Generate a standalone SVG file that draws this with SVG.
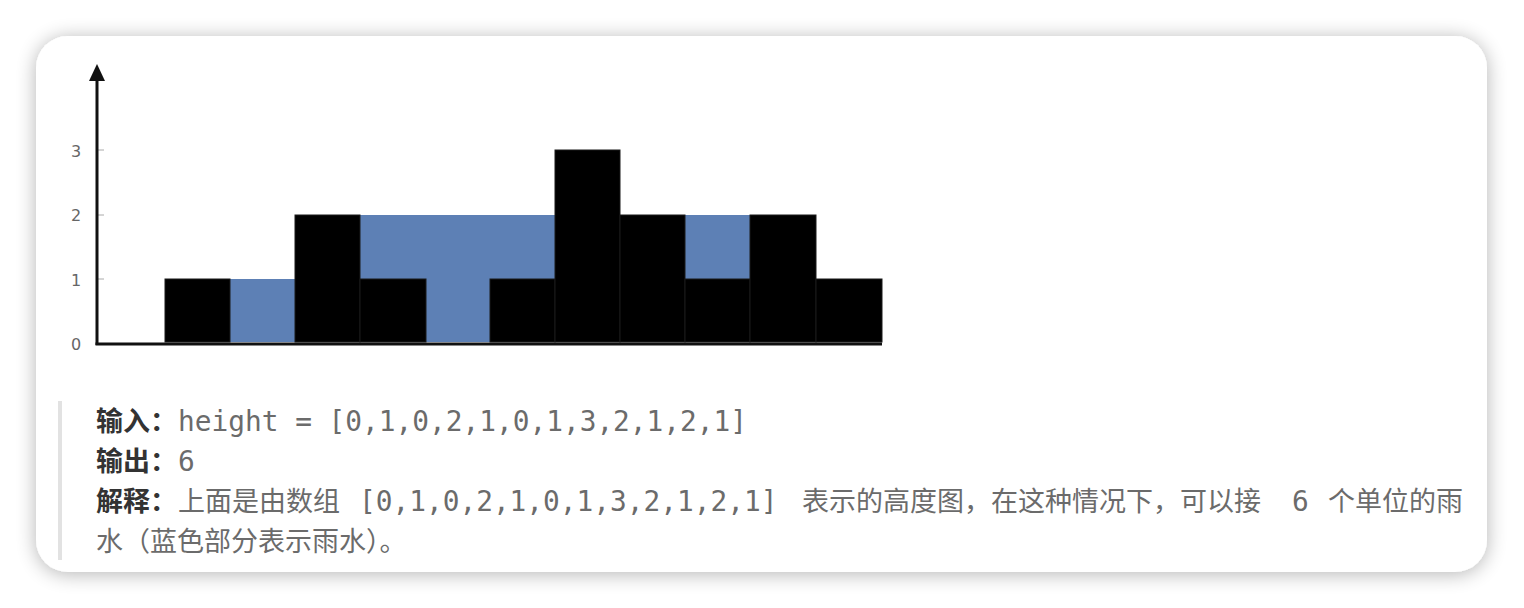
<svg xmlns="http://www.w3.org/2000/svg" width="1524" height="608" viewBox="0 0 1524 608">
<defs>
<filter id="sh" x="-5%" y="-10%" width="110%" height="120%">
<feGaussianBlur in="SourceAlpha" stdDeviation="10"/>
<feOffset dx="0" dy="2"/>
<feComponentTransfer><feFuncA type="linear" slope="0.3"/></feComponentTransfer>
<feMerge><feMergeNode/><feMergeNode in="SourceGraphic"/></feMerge>
</filter>
</defs>
<style>
.bar{fill:#000;stroke:#1a1a1a;stroke-width:1}
.water{fill:#5d80b5}
.tick{stroke:#aaa;stroke-width:1}
.lbl{font-family:"DejaVu Sans","Liberation Sans",sans-serif;font-size:16px;fill:#666}
.b{font-family:"Noto Sans CJK SC",sans-serif;font-size:27px;font-weight:bold;fill:#333}
.t{font-family:"Noto Sans CJK SC",sans-serif;font-size:27px;fill:#6b6b6b}
.m{font-family:"DejaVu Sans Mono","Liberation Mono","Noto Sans CJK SC",monospace;font-size:27.8px;fill:#6b6b6b}
</style>
<rect width="1524" height="608" fill="#ffffff"/>
<g id="card">
<rect x="36" y="36" width="1451" height="536" rx="32" ry="32" fill="#ffffff" filter="url(#sh)"/>
</g>
<g id="chart">
<g id="water">
<rect class="water" x="230" y="279" width="65" height="63"/>
<rect class="water" x="360" y="215" width="66" height="64"/>
<rect class="water" x="426" y="215" width="64" height="127"/>
<rect class="water" x="490" y="215" width="65" height="64"/>
<rect class="water" x="685" y="215" width="65" height="64"/>
</g>
<g id="bars">
<rect class="bar" x="165" y="279" width="65" height="63"/>
<rect class="bar" x="295" y="215" width="65" height="127"/>
<rect class="bar" x="360" y="279" width="66" height="63"/>
<rect class="bar" x="490" y="279" width="65" height="63"/>
<rect class="bar" x="555" y="150" width="65" height="192"/>
<rect class="bar" x="620" y="215" width="65" height="127"/>
<rect class="bar" x="685" y="279" width="65" height="63"/>
<rect class="bar" x="750" y="215" width="66" height="127"/>
<rect class="bar" x="816" y="279" width="66" height="63"/>
</g>
<g id="axes">
<line class="tick" x1="97" y1="150" x2="104" y2="150"/>
<line class="tick" x1="97" y1="215" x2="104" y2="215"/>
<line class="tick" x1="97" y1="279" x2="104" y2="279"/>
<line x1="97" y1="345" x2="97" y2="76" stroke="#111" stroke-width="3"/>
<polygon points="97,64 89,81 105,81" fill="#111"/>
<line x1="95.5" y1="344" x2="882" y2="344" stroke="#111" stroke-width="3"/>
<text class="lbl" x="76" y="157" text-anchor="middle">3</text>
<text class="lbl" x="76" y="221" text-anchor="middle">2</text>
<text class="lbl" x="76" y="286" text-anchor="middle">1</text>
<text class="lbl" x="76" y="350" text-anchor="middle">0</text>
</g>
</g>
<g id="quote">
<rect x="58" y="401" width="4" height="159" fill="#e2e2e2"/>
<text class="b" x="96" y="431">输入：</text>
<text class="m" x="178" y="431">height = [0,1,0,2,1,0,1,3,2,1,2,1]</text>
<text class="b" x="96" y="471">输出：</text>
<text class="m" x="178" y="471">6</text>
<text class="b" x="96" y="511">解释：</text>
<text class="t" x="178" y="511">上面是由数组</text>
<text class="m" x="359" y="511">[0,1,0,2,1,0,1,3,2,1,2,1]</text>
<text class="t" x="802" y="511">表示的高度图，在这种情况下，可以接</text>
<text class="m" x="1292" y="511">6</text>
<text class="t" x="1328" y="511">个单位的雨</text>
<text class="t" x="96" y="551">水（蓝色部分表示雨水）。</text>
</g>
</svg>
